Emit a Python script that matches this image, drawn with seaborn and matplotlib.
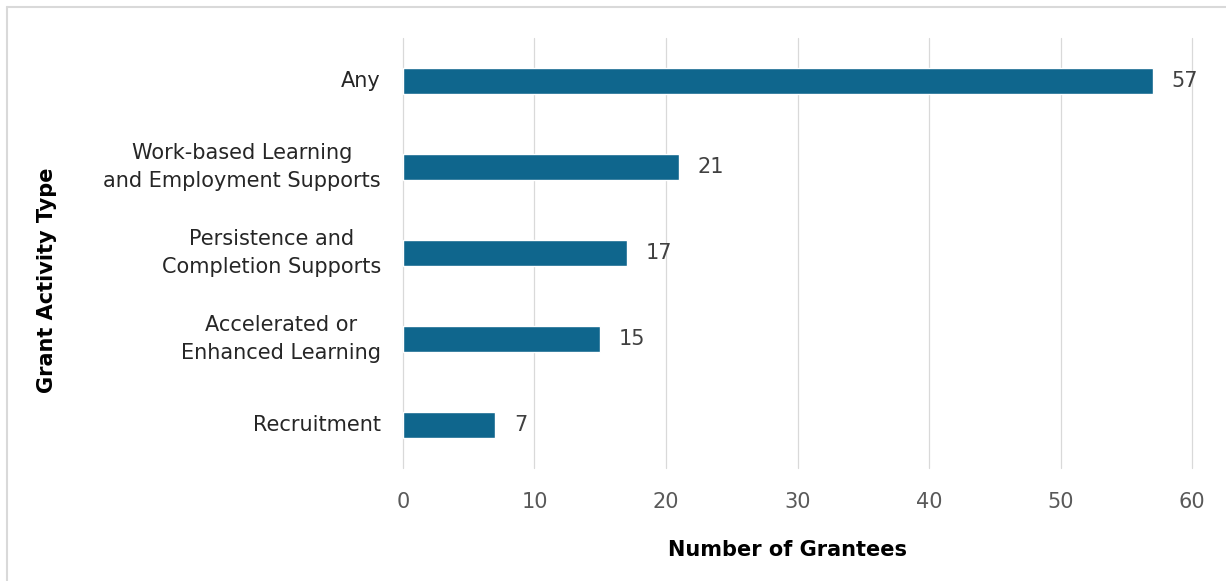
import matplotlib
matplotlib.use("Agg")
import matplotlib.pyplot as plt
from matplotlib.lines import Line2D
import seaborn as sns
import pandas as pd

# Grantee counts by activity type
activity_types = [
    "Any",
    "Work-based Learning\nand Employment Supports",
    "Persistence and\nCompletion Supports",
    "Accelerated or\nEnhanced Learning",
    "Recruitment",
]
grantee_counts = [57, 21, 17, 15, 7]
x_ticks = [0, 10, 20, 30, 40, 50, 60]

df = pd.DataFrame({"activity": activity_types, "count": grantee_counts})

sns.set_theme(style="white")
plt.rcParams["font.family"] = ["DejaVu Sans"]

bar_color = "#0F668D"
grid_color = "#D9D9D9"
tick_color = "#595959"
fs = 15

fig = plt.figure(figsize=(12.26, 5.81), dpi=100)
ax = fig.add_axes([0.3287, 0.1945, 0.6436, 0.7401])

sns.barplot(data=df, x="count", y="activity", orient="h", color=bar_color,
            width=0.3, saturation=1, ax=ax, order=activity_types)

ax.set_xlim(0, 60)
ax.set_ylim(4.5, -0.5)
ax.set_xticks(x_ticks)
ax.set_xticklabels([str(t) for t in x_ticks])
ax.xaxis.grid(True, color=grid_color, linewidth=0.9)
ax.yaxis.grid(False)
for gl in ax.get_xgridlines():
    gl.set_clip_on(False)
ax.set_axisbelow(True)
for s in ax.spines.values():
    s.set_visible(False)

ax.tick_params(axis="x", length=0, pad=17, labelsize=fs, labelcolor=tick_color)
ax.tick_params(axis="y", length=0, pad=16, labelsize=fs, labelcolor="#262626")
for lbl in ax.get_yticklabels():
    lbl.set_multialignment("center")
    lbl.set_linespacing(1.45)
    lbl.set_verticalalignment("center")

for i, v in enumerate(grantee_counts):
    ax.annotate(str(v), xy=(v, i), xytext=(13.5, 0), textcoords="offset points",
                ha="left", va="center", fontsize=fs, color="#404040")

ax.set_xlabel("")
ax.set_ylabel("")
fig.text(787 / 1226, 1 - 550 / 581, "Number of Grantees", ha="center",
         va="center", fontsize=fs, fontweight="bold", color="#000000")
fig.text(0.038, 0.518, "Grant Activity Type", rotation=90, ha="center",
         va="center", fontsize=fs, fontweight="bold", color="#000000")

# thin frame along the top and left edges
fig.add_artist(Line2D([0.006, 0.006], [0.0, 0.988], transform=fig.transFigure,
                      color="#D9D9D9", linewidth=1.5))
fig.add_artist(Line2D([0.006, 1.0], [0.988, 0.988], transform=fig.transFigure,
                      color="#D9D9D9", linewidth=1.5))

fig.savefig("out.png", dpi=100, facecolor="white")
